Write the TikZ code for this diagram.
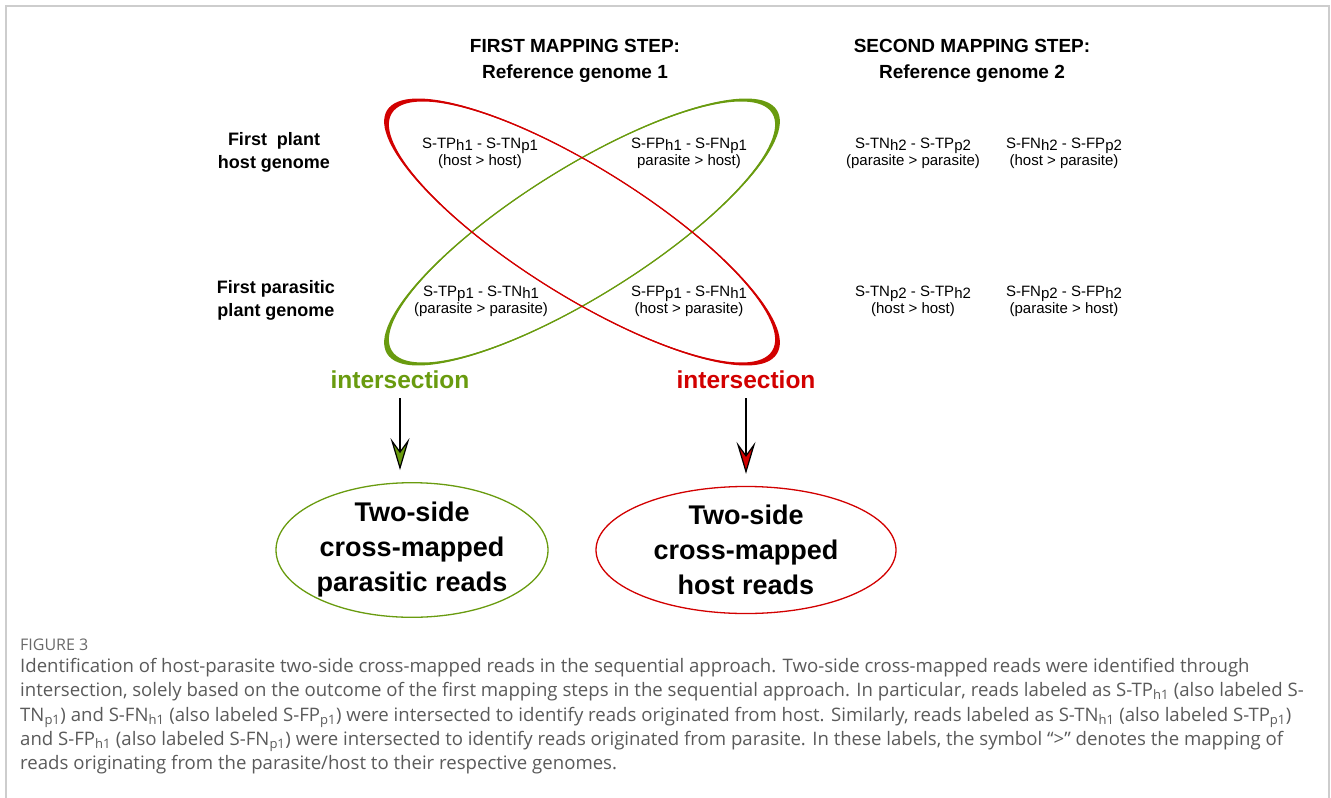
\documentclass[tikz,border=0pt]{standalone}
\usepackage{fontspec}
\setmainfont{Liberation Sans}
\newfontfamily\captionface{Open Sans}
\usetikzlibrary{arrows.meta,shapes.geometric}

\definecolor{hostred}{RGB}{210,0,0}
\definecolor{paragreen}{RGB}{105,155,15}
\definecolor{captext}{RGB}{90,90,90}
\definecolor{figlabel}{RGB}{105,105,105}
\definecolor{frameline}{RGB}{205,205,205}

% lowered index, as set in the read-set labels
\newcommand{\idx}[1]{\raisebox{-0.3ex}{#1}}

\begin{document}
\begin{tikzpicture}[x=1pt,y=-1pt,
  heading/.style={font=\fontsize{19}{26}\selectfont\bfseries, align=center, inner sep=0pt},
  rowhead/.style={font=\fontsize{18}{23}\selectfont\bfseries, align=center, inner sep=0pt},
  readset/.style={font=\fontsize{15}{17}\selectfont, align=center, inner sep=0pt},
  joinlabel/.style={font=\fontsize{24.5}{28}\selectfont\bfseries, inner sep=0pt},
  result/.style={ellipse, draw, line width=1.3pt, inner sep=0pt, align=center,
                 font=\fontsize{27}{35}\selectfont\bfseries, minimum height=126pt},
  flow/.style={line width=2.6pt, black, shorten <=9pt, shorten >=12pt},
  capline/.style={anchor=base west, inner sep=0pt, text=captext,
                  font=\captionface\fontsize{18.6}{22}\selectfont},
]
\useasboundingbox (0,0) rectangle (1331,798);

% frame around figure and caption
\draw[frameline, line width=1.3pt] (6,798) -- (6,6) -- (1329,6) -- (1329,798);

% column headings
\node[heading] (h1) at (575,61) {FIRST MAPPING STEP:\\Reference genome 1};
\node[heading] (h2) at (972,61) {SECOND MAPPING STEP:\\Reference genome 2};

% row headings
\node[rowhead] (r1) at (274,152) {First~~plant\\host genome};
\node[rowhead] (r2) at (276,300) {First parasitic\\plant genome};

% crossing ellipses: green (parasitic reads) and red (host reads)
\coordinate (C) at (582,232);
\begin{scope}[rotate around={32:(C)}]
  \fill[paragreen, even odd rule] (C) ellipse [x radius=229.8, y radius=64.4]
                                  (C) ellipse [x radius=224.2, y radius=63.6];
  \draw[paragreen, line width=1.3pt] (C) ellipse [x radius=227, y radius=64];
\end{scope}
\begin{scope}[rotate around={-32:(C)}]
  \fill[hostred, even odd rule] (C) ellipse [x radius=229.8, y radius=64.4]
                                (C) ellipse [x radius=224.2, y radius=63.6];
  \draw[hostred, line width=1.3pt] (C) ellipse [x radius=227, y radius=64];
\end{scope}

% read sets, first mapping step
\node[readset] (a1) at (480,153) {S-TP\idx{h1} - S-TN\idx{p1}\\(host > host)};
\node[readset] (a2) at (689,153) {S-FP\idx{h1} - S-FN\idx{p1}\\parasite > host)};
\node[readset] (a3) at (481,301) {S-TP\idx{p1} - S-TN\idx{h1}\\(parasite > parasite)};
\node[readset] (a4) at (689,301) {S-FP\idx{p1} - S-FN\idx{h1}\\(host > parasite)};

% read sets, second mapping step
\node[readset] (b1) at (913,153) {S-TN\idx{h2} - S-TP\idx{p2}\\(parasite > parasite)};
\node[readset] (b2) at (1064,153) {S-FN\idx{h2} - S-FP\idx{p2}\\(host > parasite)};
\node[readset] (b3) at (913,301) {S-TN\idx{p2} - S-TP\idx{h2}\\(host > host)};
\node[readset] (b4) at (1064,301) {S-FN\idx{p2} - S-FP\idx{h2}\\(parasite > host)};

% intersections and their results
\node[joinlabel, text=paragreen] (gi) at (400,380) {intersection};
\node[joinlabel, text=hostred] (ri) at (746,380) {intersection};

\node[result, draw=paragreen, minimum width=272pt] (gr) at (412,550)
  {Two-side\\cross-mapped\\parasitic reads};
\node[result, draw=hostred, minimum width=300pt] (rr) at (746,550)
  {Two-side\\cross-mapped\\host reads};

\draw[flow, -{Stealth[length=32pt, width=19pt, inset=13pt, fill=paragreen, line width=1.2pt]}]
  (gi.south) -- (gi.south |- gr.north);
\draw[flow, -{Stealth[length=32pt, width=19pt, inset=13pt, fill=hostred, line width=1.2pt]}]
  (ri.south) -- (ri.south |- rr.north);

% caption
\node[anchor=base west, inner sep=0pt, text=figlabel,
      font=\captionface\fontsize{16}{18}\selectfont] (fig) at (20,650) {FIGURE 3};
\node[capline] (c1) at (20,672) {Identification of host-parasite two-side cross-mapped reads in the sequential approach. Two-side cross-mapped reads were identified through};
\node[capline] (c2) at (20,696) {intersection, solely based on the outcome of the first mapping steps in the sequential approach. In particular, reads labeled as S-TP\textsubscript{h1} (also labeled S-};
\node[capline] (c3) at (20,721) {TN\textsubscript{p1}) and S-FN\textsubscript{h1} (also labeled S-FP\textsubscript{p1}) were intersected to identify reads originated from host. Similarly, reads labeled as S-TN\textsubscript{h1} (also labeled S-TP\textsubscript{p1})};
\node[capline] (c4) at (20,745) {and S-FP\textsubscript{h1} (also labeled S-FN\textsubscript{p1}) were intersected to identify reads originated from parasite. In these labels, the symbol “>” denotes the mapping of};
\node[capline] (c5) at (20,769) {reads originating from the parasite/host to their respective genomes.};
\end{tikzpicture}
\end{document}
